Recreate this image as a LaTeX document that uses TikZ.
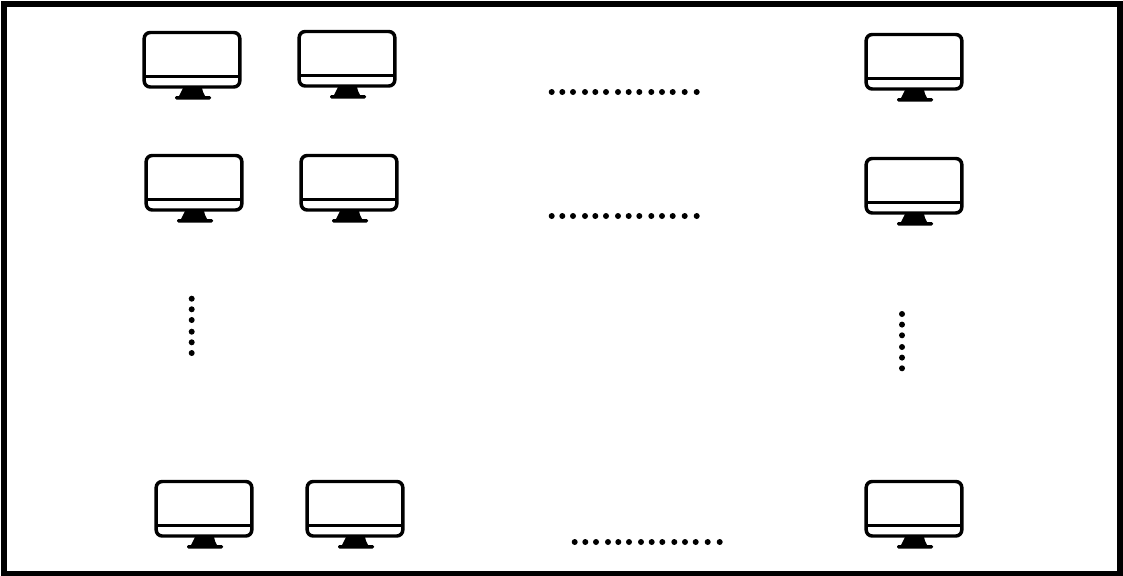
\documentclass[tikz,border=0pt]{standalone}
\tikzset{
  x=0.75pt,y=-0.75pt,
  frameline/.style={draw=black,line width=4.8pt},
  monline/.style={draw=black,line width=2.6pt},
  monfill/.style={fill=black,draw=none},
  dotmark/.style={fill=black,draw=none},
  pics/monitor/.style={code={
    \draw[monline,rounded corners=4.5pt] (1.2,1.5) rectangle (96.8,56);
    \draw[monline] (1.2,45.5) -- (96.8,45.5);
    \path[monfill] (40,57) -- (59,57) -- (60,61) -- (62,65) -- (36,65) -- (38,61) -- cycle;
    \path[monfill,rounded corners=1pt] (32,65) rectangle (68,68.5);
  }},
  pics/hdots/.style={code={
    \foreach \d in {0,10.6,21.3,33.3,43.6,54.3,66.3,77,87.6,99.6,110.3,121,133,145}
      \path[dotmark] (\d,0) circle[radius=3];
  }},
  pics/vdots/.style={code={
    \foreach \d in {0,10.6,21.3,33,43.6,54.3}
      \path[dotmark] (0,\d) circle[radius=3];
  }}
}
\begin{document}
\begin{tikzpicture}
\useasboundingbox (0,0) rectangle (1123,575);
\fill[white] (0,0) rectangle (1123,575);
\draw[frameline] (4,4) rectangle (1120,574);
\pic (m11) at (143,31) {monitor};
\pic (m12) at (298,30) {monitor};
\pic (m13) at (865,33) {monitor};
\pic (m21) at (145,154) {monitor};
\pic (m22) at (300,154) {monitor};
\pic (m23) at (865,157) {monitor};
\pic (m41) at (155,480) {monitor};
\pic (m42) at (306,480) {monitor};
\pic (m43) at (865,480) {monitor};
\pic (d1) at (551.7,92) {hdots};
\pic (d2) at (551.7,216) {hdots};
\pic (d4) at (574.7,542) {hdots};
\pic (v1) at (191.7,298.7) {vdots};
\pic (v2) at (902,314) {vdots};
\end{tikzpicture}
\end{document}
